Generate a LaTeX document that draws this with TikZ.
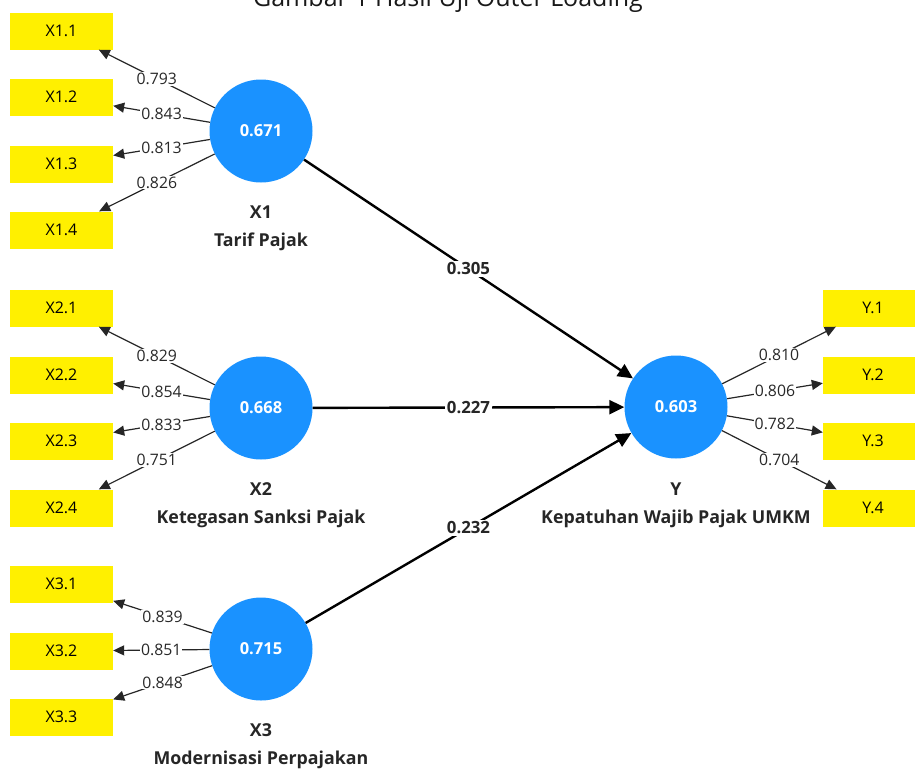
\documentclass[tikz,border=0pt]{standalone}
\usepackage{fontspec}
\setmainfont{Open Sans}
\usetikzlibrary{arrows.meta}
\definecolor{indyellow}{RGB}{255,240,0}
\definecolor{lvblue}{RGB}{26,146,255}
\definecolor{numgray}{RGB}{40,40,40}
\tikzset{
  ind/.style={fill=indyellow, minimum width=103pt, minimum height=37pt, inner sep=0pt,
    text=black, font=\fontsize{16}{16}\selectfont},
  lv/.style={circle, fill=lvblue, minimum size=103pt, inner sep=0pt, text=white,
    font=\bfseries\fontsize{16.5}{17}\selectfont},
  load/.style={draw=black!85, line width=1.2pt, -{Triangle[length=11pt,width=10pt]}},
  pathc/.style={draw=black, line width=2.4pt, -{Triangle[length=15pt,width=14pt]}},
  lbl/.style={fill=white, inner sep=1pt, text=numgray, font=\fontsize{15.8}{16}\selectfont},
  plbl/.style={fill=white, inner sep=1.5pt, text=black!85, font=\bfseries\fontsize{16.8}{17}\selectfont},
  lvname/.style={align=center, text=black!85, font=\bfseries\fontsize{17.8}{28}\selectfont}
}
\begin{document}
\begin{tikzpicture}[x=1pt, y=-1pt]
  \useasboundingbox (0,0) rectangle (915,769);
  \clip (0,0) rectangle (915,769);

  % caption, partly outside the page
  \node[anchor=base, font=\fontsize{25}{26}\selectfont, text=black!90] (cap) at (448,6)
    {Gambar 1 Hasil Uji Outer Loading};

  % latent variables
  \node[lv] (X1) at (261,131) {0.671};
  \node[lv] (X2) at (261,408) {0.668};
  \node[lv] (X3) at (261,649) {0.715};
  \node[lv] (Y)  at (676,407) {0.603};

  % latent variable names
  \node[lvname] (nX1) at (261,228) {X1\\Tarif Pajak};
  \node[lvname] (nX2) at (261,505) {X2\\Ketegasan Sanksi Pajak};
  \node[lvname] (nX3) at (261,746) {X3\\Modernisasi Perpajakan};
  \node[lvname] (nY)  at (676,505) {Y\\Kepatuhan Wajib Pajak UMKM};

  % indicators
  \node[ind] (x11) at (61.5,31)  {X1.1};
  \node[ind] (x12) at (61.5,97)  {X1.2};
  \node[ind] (x13) at (61.5,164) {X1.3};
  \node[ind] (x14) at (61.5,230) {X1.4};

  \node[ind] (x21) at (61.5,308) {X2.1};
  \node[ind] (x22) at (61.5,375) {X2.2};
  \node[ind] (x23) at (61.5,441) {X2.3};
  \node[ind] (x24) at (61.5,508) {X2.4};

  \node[ind] (x31) at (61.5,584) {X3.1};
  \node[ind] (x32) at (61.5,651) {X3.2};
  \node[ind] (x33) at (61.5,717) {X3.3};

  \node[ind, minimum width=100pt] (y1) at (873,308) {Y.1};
  \node[ind, minimum width=100pt] (y2) at (873,375) {Y.2};
  \node[ind, minimum width=100pt] (y3) at (873,441) {Y.3};
  \node[ind, minimum width=100pt] (y4) at (873,508) {Y.4};

  % outer loadings
  \draw[load] (X1) -- node[lbl] {0.793} (x11);
  \draw[load] (X1) -- node[lbl] {0.843} (x12);
  \draw[load] (X1) -- node[lbl] {0.813} (x13);
  \draw[load] (X1) -- node[lbl] {0.826} (x14);

  \draw[load] (X2) -- node[lbl] {0.829} (x21);
  \draw[load] (X2) -- node[lbl] {0.854} (x22);
  \draw[load] (X2) -- node[lbl] {0.833} (x23);
  \draw[load] (X2) -- node[lbl] {0.751} (x24);

  \draw[load] (X3) -- node[lbl] {0.839} (x31);
  \draw[load] (X3) -- node[lbl] {0.851} (x32);
  \draw[load] (X3) -- node[lbl] {0.848} (x33);

  \draw[load] (Y) -- node[lbl] {0.810} (y1);
  \draw[load] (Y) -- node[lbl] {0.806} (y2);
  \draw[load] (Y) -- node[lbl] {0.782} (y3);
  \draw[load] (Y) -- node[lbl] {0.704} (y4);

  % structural paths
  \draw[pathc] (X1) -- node[plbl] {0.305} (Y);
  \draw[pathc] (X2) -- node[plbl] {0.227} (Y);
  \draw[pathc] (X3) -- node[plbl] {0.232} (Y);
\end{tikzpicture}
\end{document}
